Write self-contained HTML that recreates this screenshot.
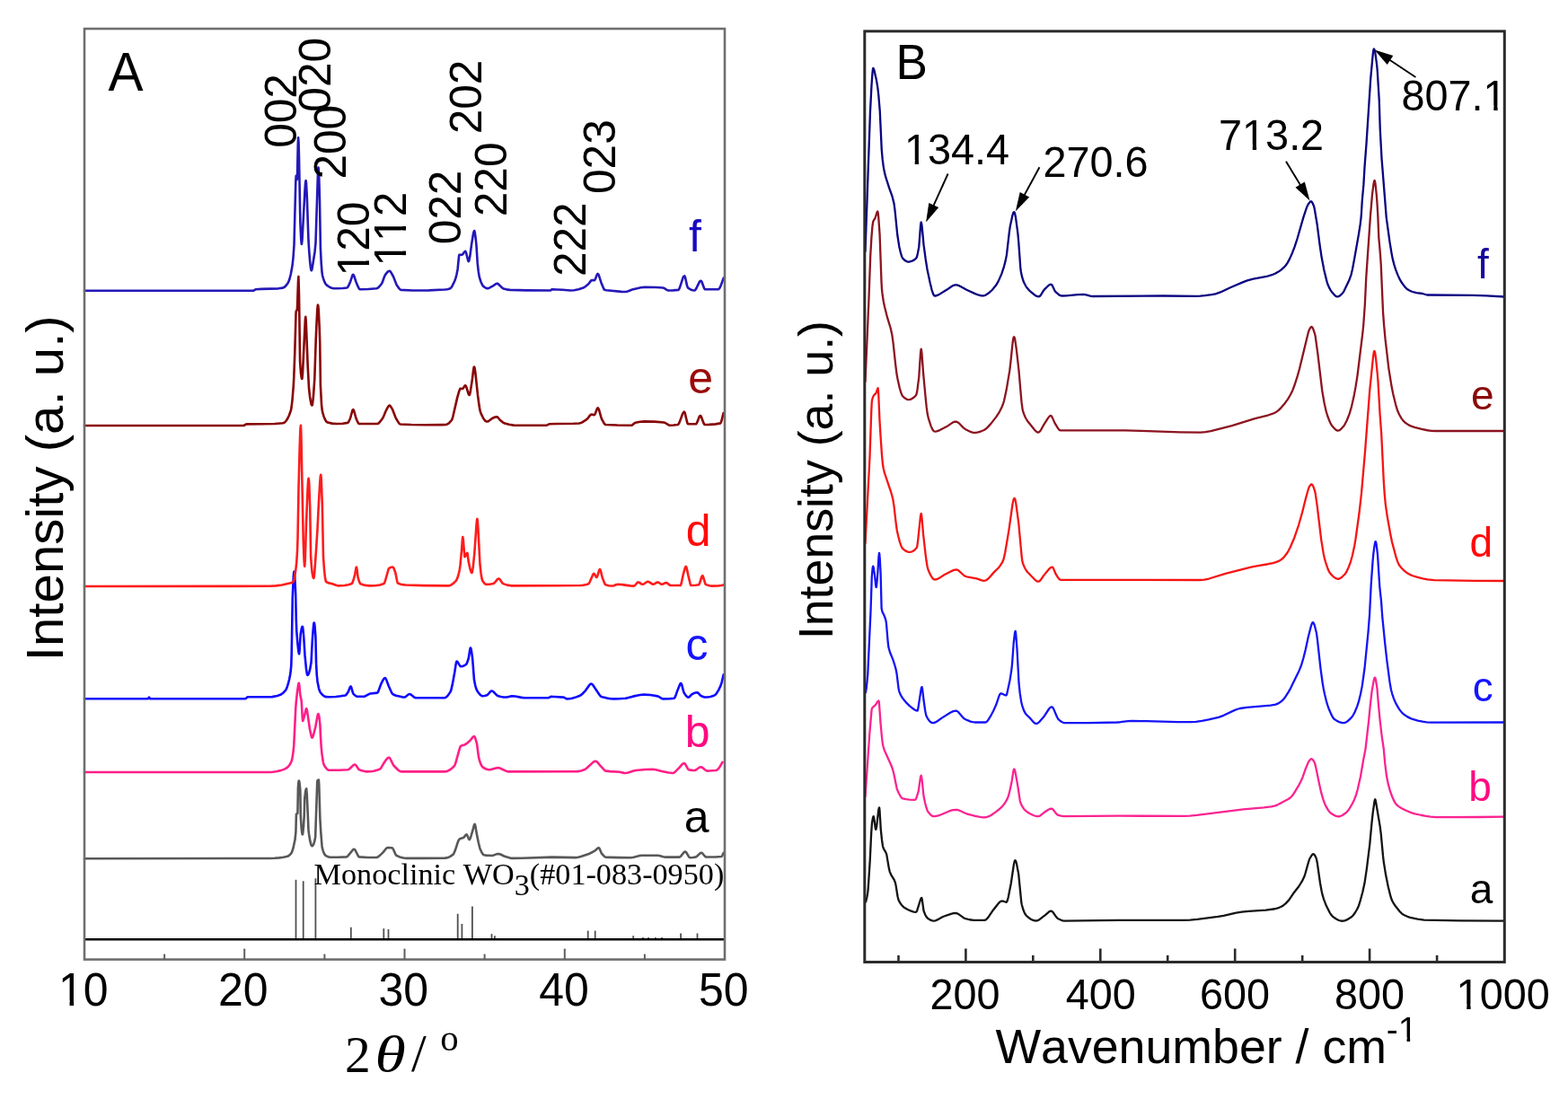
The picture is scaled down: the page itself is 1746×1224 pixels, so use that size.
<!DOCTYPE html>
<html><head><meta charset="utf-8"><style>
html,body{margin:0;padding:0;background:#fff;}
svg{display:block;}
text{font-kerning:none;}
</style></head><body>
<svg xmlns="http://www.w3.org/2000/svg" width="1746" height="1224" viewBox="0 0 1746 1224">
<rect width="1746" height="1224" fill="#fff"/>
<polyline points="94.00,956.20 300.75,956.00 305.75,955.82 310.75,955.39 315.50,954.71 320.00,953.79 321.25,953.21 322.75,952.02 324.25,950.33 325.00,949.13 326.50,944.50 328.50,935.28 329.40,926.50 329.90,906.90 331.40,905.90 331.90,877.50 332.25,872.71 332.50,870.56 332.80,869.60 333.25,870.43 333.50,871.65 334.30,879.40 334.80,908.80 335.75,923.67 336.50,928.93 336.80,929.40 337.25,928.01 338.00,920.38 338.70,908.80 339.20,890.20 339.50,886.90 340.25,881.04 340.75,878.99 341.20,878.40 341.75,884.51 343.50,924.41 344.00,928.64 345.25,936.46 346.50,941.04 347.00,941.91 347.25,942.13 347.75,942.16 348.50,941.55 349.25,940.15 350.25,936.89 351.00,933.30 351.25,929.65 353.25,870.57 353.50,869.47 354.25,868.79 354.90,868.60 355.25,873.26 356.40,911.80 357.25,926.32 358.50,942.15 358.80,944.10 359.75,947.58 360.50,949.67 361.50,951.63 362.25,952.55 363.50,953.37 365.50,954.30 367.25,954.78 376.50,954.82 386.00,954.34 386.75,953.91 387.50,953.17 392.75,946.72 393.50,946.07 394.30,945.80 395.00,946.14 395.50,946.73 398.75,953.15 399.50,954.10 400.00,954.38 409.50,954.96 419.25,955.05 420.75,954.45 422.50,953.13 426.50,949.40 430.00,944.95 431.00,944.23 431.75,944.10 435.50,944.29 437.00,944.58 438.00,945.99 440.25,951.14 441.25,952.73 445.00,954.44 449.25,955.57 452.75,955.90 469.00,955.87 495.50,955.61 497.75,955.38 499.75,954.69 501.75,953.63 504.60,951.60 505.25,950.81 506.75,947.32 510.00,937.37 510.75,935.71 511.50,934.63 512.50,934.08 515.25,933.31 516.25,932.84 518.50,930.08 519.00,929.62 519.60,929.40 520.25,930.13 522.00,934.65 522.50,935.10 523.00,934.78 523.75,933.33 524.50,931.09 526.50,924.45 527.75,919.47 528.25,918.20 528.60,917.90 529.00,918.49 529.25,919.37 531.00,929.62 532.75,938.28 534.50,945.30 536.50,949.57 538.00,951.71 539.00,952.30 541.50,952.66 548.00,952.97 549.50,952.60 553.25,951.12 555.25,950.93 557.25,951.52 561.25,953.47 565.25,954.83 568.00,955.61 570.25,955.90 581.25,955.73 614.75,954.62 641.00,955.15 643.75,954.79 646.75,954.06 655.75,950.97 658.75,949.54 662.50,947.40 665.50,944.81 666.80,944.30 667.25,944.60 667.75,945.49 669.75,950.33 672.75,953.72 673.75,954.38 674.50,954.59 679.75,954.84 690.50,955.12 702.75,955.19 705.50,954.76 711.50,953.13 714.25,952.80 732.50,952.80 734.25,953.05 738.50,954.29 740.25,954.59 756.50,954.60 757.25,954.33 758.00,953.71 761.50,949.39 762.25,948.81 763.00,948.60 763.50,948.76 764.25,949.50 767.00,954.10 767.75,954.94 768.25,955.19 771.75,954.99 775.00,954.40 776.25,953.51 779.25,950.57 780.25,949.96 781.00,949.80 781.50,949.92 782.25,950.45 784.75,953.53 786.00,954.52 796.50,954.44 803.50,953.93 804.25,952.96 805.70,949.80" fill="none" stroke="#585858" stroke-width="2.60" stroke-linejoin="round" stroke-linecap="round"/>
<polyline points="94.00,860.00 300.25,860.00 303.75,859.78 307.50,859.20 312.50,858.13 315.50,857.14 317.75,856.05 319.75,854.79 321.00,853.73 322.25,852.24 323.50,850.17 324.50,848.00 325.00,846.43 325.75,842.78 326.50,837.59 327.25,830.40 329.25,788.79 329.75,781.80 331.00,770.27 332.25,762.30 332.80,760.80 333.25,762.93 334.30,773.50 335.80,781.40 336.75,799.62 337.10,802.90 337.50,802.46 338.00,800.96 340.75,789.83 341.20,789.20 341.50,789.62 342.25,793.35 345.00,812.19 346.75,820.32 347.25,821.44 347.50,821.60 347.75,821.50 348.25,820.79 349.00,818.71 351.25,809.76 353.75,796.23 354.25,795.17 354.50,795.13 354.75,795.52 355.50,798.97 356.40,806.90 356.90,818.60 357.75,832.22 358.50,839.82 359.75,848.20 360.50,851.29 362.25,854.40 364.25,856.73 365.25,857.42 366.25,857.76 377.25,857.68 387.50,857.26 388.25,856.98 389.25,856.29 393.25,852.37 394.25,851.78 395.10,851.60 395.75,851.84 396.50,852.58 399.50,856.90 400.00,857.26 401.75,857.89 405.25,858.86 408.75,859.36 412.50,859.30 416.25,858.76 420.50,857.58 423.50,856.25 424.50,854.95 427.00,850.52 430.25,845.84 431.75,844.21 433.00,843.70 433.75,844.05 434.50,844.99 437.50,851.15 438.50,852.77 443.25,857.54 444.75,858.60 446.25,859.26 447.30,859.40 494.60,859.40 496.75,859.16 499.00,858.41 501.50,857.00 504.00,855.00 506.25,852.66 507.50,849.24 511.75,833.85 512.50,831.79 513.00,830.97 514.25,830.32 517.50,829.40 519.50,828.21 523.50,824.81 526.75,820.66 527.90,820.10 528.50,820.52 529.25,822.05 531.10,828.70 533.00,843.45 534.25,848.02 535.50,851.38 536.75,853.63 538.00,854.76 541.25,856.57 544.00,857.27 546.50,857.11 552.25,855.43 554.75,855.10 556.50,855.47 563.75,858.82 566.00,859.40 643.25,859.15 647.00,858.49 651.25,857.05 653.00,855.73 660.50,848.87 662.00,847.94 663.10,847.70 664.00,847.93 665.25,848.86 669.00,853.46 672.75,857.47 674.00,858.40 675.00,858.66 679.00,859.10 689.75,859.75 694.75,860.86 696.50,861.00 699.50,860.52 705.50,858.59 708.00,858.04 718.50,857.07 726.75,856.81 730.25,857.25 737.00,858.93 744.50,860.50 749.10,861.00 750.25,860.70 751.50,859.84 756.00,855.43 759.50,851.36 760.50,850.54 761.50,850.13 762.25,850.24 763.00,850.98 766.00,856.34 766.75,857.18 767.20,857.40 770.75,857.89 773.75,857.94 775.25,857.27 778.75,854.79 779.75,854.39 780.50,854.30 781.25,854.47 782.25,855.01 785.25,857.52 786.50,858.33 787.50,858.60 789.75,858.57 797.00,858.04 798.50,857.52 799.75,856.40 801.00,854.79 804.50,848.90" fill="none" stroke="#ff1e87" stroke-width="2.60" stroke-linejoin="round" stroke-linecap="round"/>
<polyline points="94.00,778.20 165.00,778.20 166.00,776.50 167.00,778.20 273.00,778.20 273.75,777.90 275.25,776.60 276.00,776.30 300.25,776.30 303.00,776.11 308.75,774.91 311.50,774.06 313.25,773.22 315.25,771.75 317.25,769.67 318.50,767.99 319.50,765.83 320.75,761.97 322.00,756.99 323.00,752.35 323.75,747.04 324.30,740.80 324.75,726.30 325.75,665.73 326.75,642.76 327.25,637.41 327.50,636.70 327.75,637.40 328.25,642.52 329.20,661.70 329.75,689.45 330.25,702.35 331.25,715.32 332.25,724.61 332.75,727.59 333.10,728.30 333.50,725.30 334.70,706.10 336.00,699.31 336.50,698.03 336.80,697.80 337.00,698.16 337.50,701.50 338.25,709.46 339.50,729.94 341.00,745.19 342.00,751.26 342.25,751.81 342.50,751.89 343.00,751.58 343.50,750.85 344.25,748.96 345.00,746.18 346.50,738.10 347.75,714.04 348.50,703.46 349.25,695.31 349.50,693.96 349.75,693.62 350.00,694.15 350.50,697.30 351.40,708.90 352.10,739.40 352.75,751.26 353.50,758.90 355.00,766.55 355.75,769.06 356.50,770.79 358.00,772.72 359.75,774.45 361.25,775.52 362.75,776.15 366.75,776.27 373.75,775.95 379.50,775.33 384.50,774.44 385.75,773.41 387.90,770.20 389.75,765.41 390.25,764.61 390.50,764.50 390.75,764.64 391.25,765.61 392.75,770.98 393.50,772.88 395.75,774.85 397.75,775.80 405.25,775.81 407.00,775.20 410.75,773.10 412.25,772.48 420.10,771.60 420.75,771.04 421.25,770.12 424.00,762.44 426.25,757.93 427.50,755.89 428.00,755.39 428.70,755.10 429.25,755.39 430.00,756.59 432.75,763.95 436.25,771.75 437.30,773.00 439.00,773.92 441.00,774.71 448.00,776.35 450.50,776.57 451.75,775.95 454.75,773.38 456.00,773.00 456.75,773.17 457.75,773.71 461.50,776.76 463.00,777.30 494.60,777.30 495.50,777.16 497.00,776.35 498.75,774.61 501.00,771.38 502.25,768.87 503.75,762.41 506.25,748.73 507.75,738.98 508.25,736.97 508.60,736.50 509.50,737.08 512.00,741.32 513.00,742.27 514.25,742.22 515.75,741.83 517.25,741.15 519.00,740.02 519.50,739.38 520.25,737.80 521.80,733.00 523.25,723.64 523.50,722.38 523.90,721.50 524.25,721.94 524.75,723.84 526.10,733.00 528.00,757.30 529.25,763.57 530.50,767.62 531.80,770.20 534.75,773.82 536.00,774.76 537.25,775.19 539.50,775.02 542.25,774.31 543.25,773.48 546.00,770.28 546.75,769.71 547.50,769.50 548.25,769.65 549.25,770.26 552.75,773.89 554.25,775.03 557.75,775.95 561.00,776.48 564.25,776.53 568.75,775.41 570.75,775.20 573.75,775.48 580.75,776.89 584.00,777.28 610.50,777.30 611.25,777.07 613.25,775.91 617.25,775.94 627.75,776.61 631.00,778.37 634.00,778.24 637.00,777.73 640.25,776.85 644.50,775.30 646.75,774.21 648.50,772.74 652.00,769.07 656.50,762.66 657.50,761.83 658.30,761.60 659.25,761.97 660.25,763.00 667.25,773.54 668.75,775.34 669.50,775.87 670.50,776.22 676.00,777.61 680.00,778.19 683.75,778.40 689.50,778.26 696.25,777.80 698.75,777.36 704.75,775.64 711.25,774.23 714.50,773.72 717.25,773.60 724.25,774.07 732.30,775.40 733.75,776.01 736.75,777.96 738.00,778.38 746.25,778.16 750.50,777.78 751.25,777.10 752.25,775.07 754.50,768.69 757.00,762.50 757.75,761.24 758.20,761.00 758.75,761.57 759.25,762.89 761.00,769.69 761.75,771.72 764.00,774.89 765.75,776.39 766.75,776.59 767.50,776.25 770.00,773.60 770.80,773.00 774.00,771.59 776.20,771.20 776.75,771.34 777.50,771.87 780.00,774.54 782.25,775.76 784.50,776.54 787.25,776.51 791.00,775.91 795.00,774.76 796.50,773.78 798.00,772.05 800.25,768.35 802.50,763.64 803.75,759.56 805.70,751.30" fill="none" stroke="#100aff" stroke-width="2.60" stroke-linejoin="round" stroke-linecap="round"/>
<polyline points="94.00,653.00 301.00,652.79 307.25,652.39 314.00,651.54 323.75,649.20 325.25,648.66 326.40,648.00 327.00,647.01 327.75,644.32 329.25,635.16 330.25,626.07 331.00,613.75 331.50,600.50 332.50,544.02 333.50,504.81 334.25,481.79 334.50,477.04 334.90,473.90 335.25,480.33 335.50,490.90 337.75,602.68 338.50,622.06 339.00,629.96 339.25,630.73 339.75,623.38 341.00,582.77 342.50,546.36 343.00,537.25 343.25,534.33 343.60,532.70 344.00,535.31 344.25,539.25 345.20,564.60 346.10,620.20 347.00,631.98 347.75,638.61 348.50,642.52 348.75,643.25 349.25,643.89 349.50,643.55 349.75,642.25 350.25,637.36 352.00,613.19 353.50,589.05 355.00,558.67 356.25,537.68 356.75,531.06 357.20,528.70 357.50,530.37 357.75,533.99 358.80,561.40 360.00,620.20 361.00,634.30 362.00,643.52 362.75,647.17 363.00,647.76 363.50,648.20 365.50,649.13 370.00,650.20 375.00,652.06 377.25,652.40 383.50,652.05 388.00,651.24 391.75,650.04 392.75,648.26 394.00,644.27 395.25,639.57 396.50,632.44 396.90,631.60 397.25,632.63 397.50,634.34 398.50,642.55 399.50,646.18 400.50,648.89 401.00,649.75 401.50,650.20 404.25,651.20 407.00,651.87 411.75,652.38 417.75,652.21 423.00,651.42 427.50,650.08 428.25,648.87 429.00,646.76 432.75,633.33 433.25,632.84 434.75,632.09 436.00,631.73 437.30,631.60 437.75,631.81 438.50,632.93 440.25,637.44 442.25,647.55 442.75,649.18 443.00,649.50 445.50,650.49 448.25,651.15 451.50,651.52 471.00,652.13 499.00,652.40 500.50,652.19 502.00,651.65 505.00,649.69 508.00,646.65 509.25,644.05 510.75,639.11 511.80,634.50 512.50,629.44 514.00,613.25 515.00,599.40 515.30,598.00 515.75,600.40 517.25,619.31 517.50,620.10 517.75,620.00 518.25,619.34 519.75,616.23 520.30,615.80 520.50,616.18 521.75,625.65 523.50,633.67 524.75,637.41 525.40,638.00 525.75,637.50 526.75,631.60 528.25,616.78 530.50,584.91 531.00,579.53 531.40,577.90 531.75,579.49 532.25,585.98 534.50,629.21 535.50,638.20 536.50,644.19 537.25,646.81 539.25,649.55 540.25,650.38 541.25,650.83 545.25,650.73 549.50,650.03 550.75,648.99 553.75,645.39 554.50,644.79 555.40,644.50 556.00,644.70 556.75,645.42 559.25,649.16 560.25,650.13 564.75,651.63 569.00,652.34 622.00,652.25 645.75,652.00 649.25,651.75 653.25,650.90 655.30,650.20 655.75,649.85 656.75,648.08 660.25,640.03 661.00,638.92 661.30,638.80 661.75,639.06 663.75,642.63 664.25,643.00 664.50,642.92 665.25,641.52 667.25,634.96 667.75,634.12 668.00,634.00 668.50,634.58 669.00,636.08 670.75,643.47 673.25,649.75 674.00,650.94 674.50,651.36 677.50,652.18 680.00,652.53 682.25,652.57 683.50,652.25 686.50,651.02 688.25,650.80 692.50,651.10 701.75,652.37 705.80,652.60 706.25,652.50 707.00,651.97 709.50,649.03 710.50,648.42 711.75,648.69 714.25,650.40 715.50,650.80 716.75,650.46 720.00,648.27 721.50,647.80 722.75,648.14 726.00,650.33 727.25,650.78 728.50,650.53 731.00,648.83 732.30,648.40 733.50,648.77 735.75,650.34 736.75,650.76 738.00,650.63 740.75,649.26 742.00,649.00 743.00,649.40 745.50,651.53 746.50,651.98 757.60,652.00 758.25,651.12 758.75,649.47 760.75,639.89 762.50,633.56 763.25,631.54 763.80,631.00 764.25,631.53 764.75,633.12 766.25,640.37 768.50,649.82 769.00,651.29 769.50,651.98 774.50,651.81 778.25,651.26 779.25,649.13 781.25,642.50 781.75,641.52 782.20,641.20 782.75,641.77 783.25,643.06 785.25,649.98 785.75,650.77 787.00,651.39 789.75,652.30 792.40,652.60 800.00,652.38 803.00,651.99 805.70,651.40" fill="none" stroke="#ff1c1c" stroke-width="2.60" stroke-linejoin="round" stroke-linecap="round"/>
<polyline points="94.00,474.00 271.00,474.00 271.75,473.81 273.75,472.60 274.50,472.40 305.75,472.04 315.00,471.30 316.75,470.58 318.50,468.86 320.00,466.57 321.75,462.95 323.25,459.03 324.00,456.69 324.50,454.06 325.50,445.58 326.75,430.11 327.25,420.93 328.25,394.16 329.50,349.22 329.70,347.00 330.80,345.00 331.00,342.92 332.00,313.63 332.40,308.10 333.00,328.25 334.10,402.90 335.00,415.52 335.75,420.87 336.25,421.99 336.50,421.43 337.00,415.85 339.75,358.10 340.00,354.58 340.30,352.90 340.75,358.04 342.75,408.58 344.00,432.25 345.00,441.42 346.25,448.87 346.75,450.62 347.25,451.45 347.50,451.45 347.75,450.91 348.00,449.82 349.00,440.83 350.30,422.00 351.75,377.65 352.50,360.55 353.25,345.91 353.75,340.46 354.00,339.70 354.25,340.31 354.75,344.98 355.75,365.95 356.25,381.43 356.90,429.40 358.00,450.04 358.75,457.03 359.25,459.38 360.50,463.60 361.50,466.22 362.75,468.60 363.75,469.83 365.00,470.60 369.75,471.62 374.50,472.00 381.50,471.75 387.25,470.90 388.25,469.69 390.00,466.00 392.25,457.77 392.75,456.51 393.20,456.10 393.75,456.67 394.25,457.97 396.50,466.00 398.50,470.44 399.25,471.57 399.75,471.95 420.50,471.94 421.50,471.46 422.75,470.34 426.00,466.00 427.00,464.13 429.50,457.98 431.50,454.12 432.75,452.17 433.70,451.60 434.25,451.79 435.00,452.58 437.25,456.47 440.50,465.00 442.50,468.66 444.25,471.32 445.00,472.07 445.75,472.46 458.00,472.97 473.50,473.19 492.50,473.08 496.25,472.99 497.50,472.70 499.00,471.92 500.75,470.46 502.90,468.00 503.50,466.80 504.50,463.32 509.25,442.66 511.25,435.65 512.25,433.13 512.70,432.80 515.25,432.93 516.00,432.07 517.50,429.57 518.00,429.21 518.25,429.24 518.75,429.81 519.25,430.96 521.75,438.99 522.50,439.98 522.75,439.93 523.00,439.50 523.75,436.40 525.75,423.36 527.25,411.15 527.75,408.83 528.00,408.50 528.50,409.57 529.25,414.22 532.00,440.00 533.50,451.34 534.50,457.18 535.50,460.42 538.25,466.00 540.25,468.58 541.25,469.30 542.00,469.56 542.75,469.57 543.75,469.18 548.00,466.00 551.25,464.56 553.20,464.20 554.25,464.74 557.00,468.00 559.50,470.07 561.25,471.20 566.75,472.79 572.00,473.61 608.75,473.70 611.50,472.30 620.00,471.97 638.25,471.75 645.00,471.45 646.50,471.10 648.25,470.36 653.25,467.19 654.25,466.19 656.75,462.89 658.00,461.75 659.00,461.51 661.25,462.15 662.00,462.07 662.75,460.87 664.75,455.51 665.25,454.67 665.70,454.40 666.25,454.80 667.00,456.43 669.25,464.45 670.25,467.21 672.75,471.59 673.75,472.69 674.50,473.00 687.25,473.54 703.25,473.70 704.25,473.31 706.50,471.35 707.50,470.80 712.75,469.75 717.50,469.40 728.75,469.66 739.25,470.43 740.75,471.00 744.25,473.18 745.75,473.68 750.00,473.55 754.70,473.00 755.50,472.41 756.50,470.60 760.25,460.56 761.00,459.30 761.90,458.70 762.25,458.96 762.75,460.08 765.00,469.71 765.50,471.34 766.00,472.21 775.00,472.26 775.50,471.80 776.25,470.41 778.75,464.06 779.25,463.31 779.80,463.00 780.25,463.23 781.00,464.45 783.25,470.71 784.25,472.66 784.80,473.00 789.50,472.92 796.75,472.38 802.25,471.36 802.75,470.58 803.50,468.45 805.60,460.10" fill="none" stroke="#880606" stroke-width="2.60" stroke-linejoin="round" stroke-linecap="round"/>
<polyline points="94.00,323.80 282.00,323.80 282.75,323.56 284.25,322.48 285.00,322.20 290.75,321.88 310.00,321.33 315.00,320.60 316.75,319.73 318.75,317.74 320.75,314.88 321.50,313.39 322.50,310.46 323.75,305.44 325.00,299.08 325.75,294.07 326.50,287.11 327.50,272.76 329.25,203.20 329.70,195.80 330.75,199.97 331.00,197.02 331.75,161.55 332.10,153.20 332.50,158.40 333.00,175.55 334.40,248.50 335.25,266.62 335.75,271.50 335.90,271.80 336.00,271.66 336.50,267.41 339.50,211.97 340.00,204.84 340.25,202.51 340.60,201.20 341.00,203.81 341.75,217.73 343.50,267.94 344.25,279.87 345.25,292.36 346.00,298.65 346.50,300.82 346.75,301.19 347.00,301.04 347.50,299.44 350.50,280.71 351.50,270.31 353.75,200.01 354.25,188.31 354.50,186.50 354.75,187.91 355.25,197.74 356.00,223.04 356.90,276.40 357.75,293.55 358.50,302.87 359.00,306.48 359.75,309.41 361.00,313.07 362.25,315.65 363.25,317.07 364.50,318.23 367.00,319.76 369.25,320.73 371.50,321.18 375.00,321.18 381.75,320.95 386.50,320.50 387.50,319.36 388.50,317.38 390.25,313.42 392.25,307.13 392.75,306.13 393.20,305.80 393.75,306.24 394.25,307.27 396.25,313.41 398.75,319.39 399.75,321.29 400.50,322.08 402.50,322.20 410.00,322.02 419.50,321.28 420.75,320.65 422.00,319.61 425.00,316.00 426.00,313.93 427.75,308.76 428.75,306.39 431.50,302.92 432.50,302.14 433.60,301.80 434.50,302.21 435.25,303.06 438.00,308.00 441.75,317.60 444.50,321.37 445.50,322.34 446.50,322.90 459.75,323.43 477.50,323.41 495.00,322.56 498.00,322.21 500.75,321.58 501.50,321.17 502.25,320.43 503.75,318.19 506.25,313.02 507.50,309.38 508.50,305.47 509.60,300.00 511.00,285.55 511.40,283.90 514.50,283.79 515.25,283.13 517.25,280.44 517.75,280.03 518.25,279.91 519.00,281.31 521.25,290.40 521.80,291.10 522.25,290.51 523.25,285.82 525.25,271.00 527.00,260.59 527.50,258.21 528.10,257.00 528.50,257.69 528.75,258.73 529.75,266.15 530.50,273.63 531.70,292.90 532.75,302.38 533.75,308.41 535.50,314.01 537.25,317.66 538.25,318.87 539.50,319.83 541.00,320.73 542.25,321.14 543.50,321.15 545.00,320.64 548.50,318.73 552.00,316.31 553.70,315.80 554.75,316.26 559.00,320.35 560.50,321.45 564.00,322.35 567.75,322.88 586.75,323.34 613.00,323.50 614.25,322.34 615.00,322.30 626.25,322.75 635.25,323.48 639.25,323.29 644.25,322.25 649.50,320.53 652.00,318.98 655.30,316.30 658.25,312.38 658.75,312.12 661.90,312.10 662.25,311.92 663.00,310.57 664.75,305.87 665.25,305.08 665.60,304.90 666.25,305.41 666.75,306.37 669.50,314.96 672.25,321.59 673.25,322.84 675.25,323.28 692.00,324.91 696.75,325.07 699.00,324.52 704.00,322.46 708.25,321.40 713.50,320.28 717.75,319.90 730.25,319.94 738.30,320.50 739.50,320.90 742.50,322.89 744.00,323.48 749.50,323.37 755.25,322.89 756.00,322.25 757.00,320.16 760.50,309.39 761.25,307.94 762.10,307.30 762.50,307.66 763.00,308.96 765.00,317.90 765.75,320.17 767.25,321.43 769.50,322.68 771.50,323.32 773.25,323.50 774.00,323.13 775.00,321.81 778.75,314.14 779.50,313.16 780.40,312.70 781.00,313.11 781.50,313.98 784.00,320.80 784.50,321.75 785.00,322.25 800.00,322.25 801.00,321.38 802.25,319.10 805.70,309.70" fill="none" stroke="#2418b8" stroke-width="2.60" stroke-linejoin="round" stroke-linecap="round"/>
<line x1="329.5" y1="1046.2" x2="329.5" y2="979.8" stroke="#505050" stroke-width="1.80" stroke-linecap="butt"/>
<line x1="337.7" y1="1046.2" x2="337.7" y2="981.3" stroke="#505050" stroke-width="1.80" stroke-linecap="butt"/>
<line x1="351.4" y1="1046.2" x2="351.4" y2="978.3" stroke="#505050" stroke-width="1.80" stroke-linecap="butt"/>
<line x1="390.8" y1="1046.2" x2="390.8" y2="1032.7" stroke="#505050" stroke-width="1.80" stroke-linecap="butt"/>
<line x1="427.3" y1="1046.2" x2="427.3" y2="1034.1" stroke="#505050" stroke-width="1.80" stroke-linecap="butt"/>
<line x1="432.5" y1="1046.2" x2="432.5" y2="1034.9" stroke="#505050" stroke-width="1.80" stroke-linecap="butt"/>
<line x1="509.7" y1="1046.2" x2="509.7" y2="1017.8" stroke="#505050" stroke-width="1.80" stroke-linecap="butt"/>
<line x1="514.4" y1="1046.2" x2="514.4" y2="1028.9" stroke="#505050" stroke-width="1.80" stroke-linecap="butt"/>
<line x1="525.9" y1="1046.2" x2="525.9" y2="1009.6" stroke="#505050" stroke-width="1.80" stroke-linecap="butt"/>
<line x1="547.5" y1="1046.2" x2="547.5" y2="1040.1" stroke="#505050" stroke-width="1.80" stroke-linecap="butt"/>
<line x1="550.9" y1="1046.2" x2="550.9" y2="1042.3" stroke="#505050" stroke-width="1.80" stroke-linecap="butt"/>
<line x1="654.7" y1="1046.2" x2="654.7" y2="1036.6" stroke="#505050" stroke-width="1.80" stroke-linecap="butt"/>
<line x1="662.7" y1="1046.2" x2="662.7" y2="1036.6" stroke="#505050" stroke-width="1.80" stroke-linecap="butt"/>
<line x1="705.2" y1="1046.2" x2="705.2" y2="1042.2" stroke="#505050" stroke-width="1.80" stroke-linecap="butt"/>
<line x1="716.0" y1="1046.2" x2="716.0" y2="1044.0" stroke="#505050" stroke-width="1.80" stroke-linecap="butt"/>
<line x1="722.0" y1="1046.2" x2="722.0" y2="1044.0" stroke="#505050" stroke-width="1.80" stroke-linecap="butt"/>
<line x1="730.0" y1="1046.2" x2="730.0" y2="1044.0" stroke="#505050" stroke-width="1.80" stroke-linecap="butt"/>
<line x1="737.0" y1="1046.2" x2="737.0" y2="1044.0" stroke="#505050" stroke-width="1.80" stroke-linecap="butt"/>
<line x1="758.1" y1="1046.2" x2="758.1" y2="1039.5" stroke="#505050" stroke-width="1.80" stroke-linecap="butt"/>
<line x1="776.5" y1="1046.2" x2="776.5" y2="1039.5" stroke="#505050" stroke-width="1.80" stroke-linecap="butt"/>
<line x1="94.0" y1="1046.2" x2="807.0" y2="1046.2" stroke="#000" stroke-width="2.60" stroke-linecap="butt"/>
<rect x="94.0" y="32.0" width="713.0" height="1036.6" fill="none" stroke="#6e6e6e" stroke-width="2.6"/>
<line x1="183.1" y1="1068.6" x2="183.1" y2="1062.6" stroke="#5f5f5f" stroke-width="2.00" stroke-linecap="butt"/>
<line x1="272.2" y1="1068.6" x2="272.2" y2="1056.6" stroke="#5f5f5f" stroke-width="2.00" stroke-linecap="butt"/>
<line x1="361.4" y1="1068.6" x2="361.4" y2="1062.6" stroke="#5f5f5f" stroke-width="2.00" stroke-linecap="butt"/>
<line x1="450.5" y1="1068.6" x2="450.5" y2="1056.6" stroke="#5f5f5f" stroke-width="2.00" stroke-linecap="butt"/>
<line x1="539.6" y1="1068.6" x2="539.6" y2="1062.6" stroke="#5f5f5f" stroke-width="2.00" stroke-linecap="butt"/>
<line x1="628.8" y1="1068.6" x2="628.8" y2="1056.6" stroke="#5f5f5f" stroke-width="2.00" stroke-linecap="butt"/>
<line x1="717.9" y1="1068.6" x2="717.9" y2="1062.6" stroke="#5f5f5f" stroke-width="2.00" stroke-linecap="butt"/>
<polyline points="963.50,1004.80 963.75,1004.67 964.25,1003.74 965.25,999.74 966.25,993.99 966.75,989.09 968.75,958.09 970.25,926.57 971.00,916.50 972.00,910.75 972.50,909.34 972.75,909.22 973.25,911.02 974.75,922.64 975.20,923.90 975.50,923.49 976.25,919.53 978.25,902.38 978.75,899.96 979.10,899.40 979.50,902.09 980.75,923.35 982.00,935.49 983.00,942.29 984.00,945.38 986.25,949.04 987.25,951.65 989.75,966.58 990.75,970.84 992.25,974.28 995.50,979.52 997.00,983.38 997.75,987.11 999.50,998.27 1000.50,1002.30 1002.00,1005.10 1003.75,1007.66 1005.50,1009.59 1007.25,1011.03 1010.75,1013.01 1014.50,1014.67 1017.50,1015.53 1020.10,1015.80 1020.75,1015.15 1021.25,1013.95 1025.25,1001.19 1025.75,1000.22 1026.25,999.92 1026.75,1001.58 1028.50,1014.26 1030.25,1018.74 1031.50,1021.02 1033.00,1022.82 1035.50,1024.39 1038.00,1025.38 1040.00,1025.59 1041.75,1025.26 1043.75,1024.42 1048.50,1021.69 1050.50,1020.77 1059.00,1017.80 1061.75,1017.20 1064.00,1017.00 1065.50,1017.20 1067.00,1017.86 1072.25,1021.69 1074.00,1022.74 1075.20,1023.20 1079.50,1024.25 1084.25,1024.89 1096.10,1024.90 1097.00,1024.73 1098.00,1024.18 1100.25,1021.85 1106.00,1013.41 1111.50,1006.52 1113.25,1004.66 1114.50,1003.80 1115.50,1003.51 1116.75,1003.65 1120.25,1004.78 1120.75,1004.77 1121.25,1004.20 1122.00,1002.24 1122.75,999.25 1125.75,983.95 1129.00,962.23 1129.75,959.15 1130.00,958.57 1130.40,958.20 1130.75,958.40 1131.25,959.33 1132.00,961.86 1134.25,973.82 1137.25,1004.59 1137.70,1007.20 1139.25,1012.75 1141.00,1017.15 1142.60,1019.50 1145.25,1021.89 1147.50,1023.52 1149.75,1024.72 1152.00,1025.43 1154.50,1025.52 1156.75,1024.63 1164.25,1018.94 1168.00,1015.56 1169.25,1014.82 1170.25,1014.60 1171.25,1014.89 1172.50,1016.01 1176.25,1021.33 1177.75,1022.92 1181.75,1024.82 1183.50,1025.36 1185.00,1025.58 1245.75,1024.92 1318.00,1024.80 1325.25,1024.53 1333.25,1023.87 1356.25,1020.87 1362.50,1019.76 1376.50,1016.68 1382.75,1015.68 1390.50,1014.92 1409.50,1013.57 1419.75,1012.24 1422.75,1011.46 1426.25,1009.93 1429.00,1008.38 1431.75,1006.12 1435.25,1002.38 1440.00,995.30 1446.25,987.25 1449.75,981.72 1452.25,976.53 1453.50,972.74 1457.25,959.41 1458.25,956.50 1460.75,952.38 1461.75,951.44 1462.50,951.20 1463.25,951.54 1464.00,952.46 1465.00,954.37 1466.00,956.94 1467.00,962.31 1470.00,983.50 1471.75,992.92 1472.75,997.15 1474.00,1001.35 1476.75,1008.58 1480.75,1016.50 1482.25,1018.87 1483.75,1020.62 1487.50,1023.29 1490.75,1024.99 1493.50,1025.73 1496.25,1025.64 1498.00,1025.16 1499.75,1024.42 1504.50,1021.59 1506.50,1019.75 1508.75,1016.78 1511.25,1012.48 1513.00,1008.68 1514.50,1003.93 1517.25,993.74 1519.50,983.57 1521.80,968.10 1525.25,940.46 1527.50,916.22 1528.75,904.85 1530.50,892.47 1530.75,891.26 1531.20,890.30 1531.50,890.69 1532.00,892.71 1536.75,920.91 1537.75,928.84 1540.00,953.23 1540.75,959.58 1543.00,973.81 1545.75,987.46 1548.50,998.48 1549.50,1001.53 1550.50,1003.76 1552.00,1006.46 1553.75,1009.01 1558.50,1014.92 1560.50,1017.09 1562.00,1018.28 1564.25,1019.48 1567.25,1020.80 1570.25,1021.82 1578.50,1023.68 1585.75,1024.69 1624.25,1025.37 1675.00,1025.60" fill="none" stroke="#141414" stroke-width="2.30" stroke-linejoin="round" stroke-linecap="round"/>
<polyline points="963.50,887.10 968.25,817.97 970.50,791.35 971.00,789.00 971.50,788.18 972.25,787.32 974.70,785.40 977.25,781.35 977.75,780.79 978.40,780.50 978.75,781.68 979.00,783.76 980.50,805.08 981.75,818.49 982.50,825.55 983.25,830.48 984.75,835.43 992.00,851.50 994.00,856.77 995.25,861.45 998.50,877.53 999.20,879.70 1001.00,883.78 1003.25,887.75 1004.25,888.87 1005.25,889.46 1009.00,890.13 1013.00,890.57 1018.25,890.80 1019.25,890.61 1020.00,889.55 1020.75,887.78 1022.75,881.17 1024.75,867.04 1025.25,864.61 1025.50,863.97 1025.75,863.82 1026.00,864.36 1026.50,867.33 1028.50,886.55 1030.00,893.74 1031.25,898.70 1032.50,902.43 1033.50,904.30 1036.50,907.69 1037.75,908.61 1039.00,909.12 1041.50,909.09 1044.75,908.39 1048.00,907.23 1058.00,902.98 1061.25,902.10 1064.00,901.80 1066.00,901.98 1068.00,902.54 1075.00,905.74 1077.25,906.57 1086.00,908.94 1091.00,909.97 1095.00,910.38 1097.75,910.26 1100.50,909.48 1103.50,907.98 1108.75,904.34 1113.00,901.00 1115.25,898.97 1117.00,897.06 1118.75,894.76 1121.75,889.60 1123.00,886.19 1124.50,880.21 1126.75,869.66 1128.50,858.41 1128.75,857.34 1129.20,856.50 1129.50,856.70 1130.00,857.80 1130.75,860.88 1133.25,874.95 1135.75,891.65 1136.25,893.78 1137.25,896.15 1138.50,898.49 1140.00,900.71 1141.50,902.40 1143.00,903.68 1146.50,905.91 1149.50,907.51 1152.00,908.50 1154.50,909.09 1156.50,909.17 1157.75,908.74 1159.25,907.73 1162.75,904.79 1167.00,902.02 1169.00,900.97 1170.75,900.60 1171.75,900.90 1172.75,901.74 1176.25,906.33 1177.75,907.70 1181.25,908.70 1184.50,909.17 1245.75,908.71 1318.25,908.80 1325.00,908.54 1332.75,907.88 1384.50,901.36 1407.25,899.44 1415.50,898.47 1420.00,897.40 1423.25,896.03 1434.50,889.97 1437.00,888.20 1438.75,886.50 1441.75,882.07 1446.50,874.04 1448.75,869.75 1450.50,865.70 1453.50,857.01 1456.75,849.11 1457.50,847.86 1459.00,846.08 1459.75,845.45 1460.50,845.20 1461.25,845.50 1462.25,846.64 1463.70,849.20 1464.25,850.63 1465.25,854.64 1468.75,871.80 1471.25,882.93 1473.75,891.48 1475.75,896.70 1479.00,902.32 1480.50,904.30 1482.00,905.77 1485.25,907.77 1487.75,908.88 1490.00,909.37 1492.00,909.23 1494.75,908.06 1498.75,905.28 1500.50,903.51 1502.25,901.10 1505.75,895.28 1508.00,890.68 1510.00,885.52 1511.75,879.30 1515.00,864.71 1518.25,845.72 1520.50,834.35 1524.00,803.80 1525.75,785.86 1527.50,770.38 1529.75,757.59 1530.50,755.13 1531.00,754.60 1531.50,755.31 1532.00,757.24 1533.50,767.10 1535.00,785.40 1536.75,803.34 1538.75,820.31 1540.75,833.71 1542.25,850.39 1544.00,864.34 1545.75,873.16 1548.00,881.22 1550.00,886.74 1551.75,890.90 1553.25,893.78 1554.75,895.85 1557.00,897.90 1560.25,899.94 1565.75,902.81 1570.75,904.91 1574.50,906.05 1582.00,907.75 1587.75,908.86 1593.00,909.62 1599.00,910.07 1609.75,910.10 1646.50,909.98 1675.00,909.60" fill="none" stroke="#fa2391" stroke-width="2.30" stroke-linejoin="round" stroke-linecap="round"/>
<polyline points="963.50,771.80 964.00,770.88 964.75,766.62 966.25,751.35 969.50,681.17 970.75,643.18 971.50,634.10 971.75,632.13 972.20,630.60 972.75,632.19 974.00,640.70 975.25,652.56 975.50,653.77 975.75,654.07 976.00,653.17 976.50,648.50 977.50,635.79 978.50,619.43 979.00,615.90 979.25,616.67 979.75,622.09 980.60,638.40 981.60,677.60 982.50,681.40 984.25,684.86 985.75,688.74 986.50,691.40 987.00,694.91 988.75,715.73 989.40,720.80 991.00,726.47 994.25,734.34 996.25,740.54 997.50,745.10 998.50,749.89 1000.50,766.19 1001.20,769.80 1002.50,773.16 1004.00,775.98 1005.75,778.40 1009.75,783.19 1012.75,786.06 1017.75,790.02 1019.75,791.20 1021.50,791.60 1021.75,791.35 1022.25,789.59 1025.50,768.47 1026.00,766.06 1026.50,765.10 1027.00,766.67 1028.50,779.51 1030.25,791.75 1031.25,796.74 1032.75,799.76 1034.50,802.41 1036.00,804.02 1037.50,804.96 1038.50,805.19 1039.50,805.14 1041.75,804.39 1044.00,803.04 1048.75,799.61 1058.50,793.50 1061.50,792.12 1064.25,791.60 1065.50,791.86 1067.00,792.90 1072.00,798.80 1073.75,800.45 1077.25,802.18 1080.75,803.57 1083.00,804.18 1085.25,804.48 1097.40,804.50 1098.25,804.24 1099.25,803.37 1100.50,801.67 1103.75,796.34 1106.25,791.48 1109.25,784.82 1112.25,775.81 1113.50,773.09 1114.25,772.35 1115.00,772.35 1116.25,772.78 1119.00,774.22 1120.30,774.50 1120.75,774.07 1121.25,772.75 1124.50,757.69 1126.25,746.60 1127.00,739.97 1128.75,715.74 1130.00,704.96 1130.25,703.65 1130.60,702.90 1131.00,704.34 1131.25,706.46 1132.50,722.89 1134.50,760.44 1135.75,772.40 1137.25,781.92 1138.25,785.84 1139.50,789.73 1140.50,792.16 1141.75,794.43 1143.25,796.28 1146.75,799.58 1150.75,804.21 1152.00,805.29 1153.25,805.91 1154.25,805.97 1155.25,805.64 1157.50,803.81 1162.75,797.66 1168.25,789.25 1169.75,787.78 1171.00,787.30 1171.50,787.39 1172.00,787.75 1173.25,789.59 1177.00,798.54 1178.50,801.20 1180.00,802.46 1182.25,803.96 1184.00,804.80 1185.50,805.16 1213.25,805.05 1243.50,804.50 1247.50,804.23 1256.25,803.22 1260.25,803.00 1276.50,803.18 1311.75,804.07 1325.75,804.20 1331.75,803.85 1338.50,802.92 1346.00,801.43 1357.00,798.84 1362.50,796.81 1375.00,790.85 1378.00,789.74 1380.75,789.00 1388.50,787.91 1414.75,785.55 1420.50,784.68 1423.50,783.40 1427.00,780.96 1429.00,779.15 1431.25,776.24 1434.50,771.18 1436.50,767.63 1446.50,747.16 1449.00,740.96 1451.50,732.51 1453.75,723.56 1456.75,709.48 1459.75,697.68 1461.00,694.11 1461.50,693.39 1461.90,693.20 1462.25,693.33 1462.75,693.92 1463.75,696.30 1466.00,705.30 1467.00,712.87 1470.50,744.62 1472.75,761.01 1473.75,766.92 1475.25,774.04 1476.75,780.21 1478.25,785.41 1479.60,789.20 1482.25,795.41 1484.00,798.72 1485.50,800.71 1488.75,802.90 1492.00,804.42 1495.00,805.14 1496.25,805.20 1497.50,804.98 1499.00,804.32 1500.75,803.11 1504.90,799.10 1506.75,796.57 1508.50,793.24 1511.25,786.57 1513.00,781.18 1515.00,773.00 1516.75,764.13 1519.50,744.51 1523.50,704.33 1525.10,684.00 1526.70,651.30 1528.50,625.83 1529.25,617.48 1530.25,609.61 1531.00,604.91 1531.25,603.89 1531.70,603.10 1532.25,604.30 1532.75,607.05 1534.00,617.60 1536.25,653.12 1538.00,669.43 1539.25,686.78 1542.25,716.92 1544.50,736.93 1547.50,759.66 1549.00,768.20 1550.25,772.77 1551.75,777.33 1553.25,781.05 1554.75,784.16 1557.00,788.11 1559.00,791.14 1561.00,793.64 1563.00,795.50 1566.50,797.88 1570.25,799.87 1573.75,801.21 1578.75,802.55 1584.00,803.73 1588.50,804.43 1593.10,804.70 1675.00,804.50" fill="none" stroke="#1414f5" stroke-width="2.30" stroke-linejoin="round" stroke-linecap="round"/>
<polyline points="963.50,605.00 968.50,509.20 970.25,458.01 970.75,448.03 971.25,444.75 972.25,441.74 973.50,439.70 975.50,438.00 977.00,433.27 977.60,432.30 978.00,435.24 978.25,439.47 979.50,468.59 980.75,488.83 982.00,506.99 983.00,517.30 983.75,521.70 985.00,526.92 992.25,548.29 994.30,556.00 995.50,563.68 997.75,583.27 998.75,590.47 1000.25,597.26 1002.00,603.84 1003.50,608.19 1005.00,610.89 1007.75,613.11 1010.50,614.52 1013.00,614.89 1014.50,614.69 1015.75,614.28 1018.25,612.73 1020.80,610.00 1021.25,608.55 1022.00,603.31 1025.00,574.89 1025.50,572.26 1025.75,572.02 1026.00,572.72 1026.50,576.54 1028.00,594.40 1030.25,614.27 1031.50,624.27 1032.50,630.55 1033.50,634.50 1036.00,640.22 1038.00,643.52 1039.00,644.62 1040.00,645.30 1040.75,645.49 1041.75,645.44 1044.00,644.79 1046.25,643.61 1051.75,640.09 1059.25,636.15 1062.25,634.92 1064.75,634.50 1066.00,634.70 1067.25,635.35 1073.50,640.99 1074.75,641.73 1076.50,642.27 1087.50,644.30 1093.25,646.33 1095.50,646.78 1096.75,646.72 1098.00,646.27 1099.50,645.28 1101.00,643.91 1106.75,637.37 1111.25,632.97 1113.25,630.72 1115.75,626.95 1117.50,623.09 1119.25,615.30 1123.50,589.84 1127.50,561.48 1128.50,556.87 1129.00,555.51 1129.60,554.90 1130.00,555.26 1130.50,556.63 1131.25,560.24 1134.25,582.54 1137.50,618.01 1138.25,624.12 1138.75,626.71 1140.00,630.05 1141.25,632.73 1142.50,634.91 1144.00,637.03 1152.25,645.56 1154.00,646.95 1155.50,647.62 1156.75,647.60 1158.00,646.73 1159.25,645.23 1162.25,640.88 1167.75,634.20 1169.75,632.32 1170.75,631.78 1171.50,631.61 1172.00,631.69 1172.75,632.57 1175.50,639.11 1178.00,643.15 1179.50,645.07 1180.75,645.79 1336.25,645.99 1341.00,645.58 1346.25,644.51 1364.50,638.92 1393.00,631.68 1399.50,630.28 1412.00,628.24 1417.50,627.08 1420.75,626.16 1423.25,625.15 1426.00,623.64 1428.25,622.02 1430.25,619.90 1432.75,616.51 1434.50,613.79 1436.50,610.00 1441.25,598.98 1446.00,585.05 1450.00,571.03 1454.25,554.08 1457.00,544.24 1457.75,542.34 1458.75,540.78 1459.75,539.65 1460.40,539.40 1461.00,539.66 1461.50,540.25 1462.50,542.22 1464.10,546.80 1464.75,549.67 1466.75,563.83 1471.25,601.42 1473.75,616.65 1474.75,621.35 1476.00,625.86 1478.75,634.02 1480.00,636.73 1481.25,638.64 1484.50,642.05 1487.00,643.93 1489.25,644.75 1490.25,644.78 1491.50,644.48 1492.75,643.84 1494.25,642.72 1497.75,639.27 1499.75,636.05 1501.75,631.62 1504.00,625.55 1505.75,619.23 1508.20,608.00 1509.50,600.43 1513.50,571.53 1516.00,549.41 1520.00,503.38 1525.25,434.37 1529.00,397.91 1529.75,392.62 1530.00,391.58 1530.40,390.90 1530.75,391.35 1531.25,393.36 1532.00,398.69 1533.75,415.83 1534.50,425.13 1536.50,460.10 1538.25,483.88 1540.70,534.50 1541.75,550.32 1542.75,561.25 1544.75,575.29 1548.00,593.53 1550.00,603.43 1554.50,620.41 1556.25,625.63 1557.75,628.95 1560.00,631.93 1563.25,635.29 1566.50,637.90 1569.75,639.85 1573.00,641.24 1578.50,642.88 1584.25,644.29 1589.50,645.27 1597.00,646.04 1612.25,646.42 1642.25,646.86 1675.00,647.00" fill="none" stroke="#f51414" stroke-width="2.30" stroke-linejoin="round" stroke-linecap="round"/>
<polyline points="963.50,425.00 967.40,334.80 969.25,284.29 970.50,263.24 971.50,251.49 972.25,246.75 973.00,245.14 974.50,243.00 976.50,236.48 977.20,235.50 977.50,236.11 977.75,237.47 978.25,242.09 979.60,261.30 981.50,313.86 982.00,322.50 982.50,326.97 983.75,335.50 985.00,341.48 988.00,353.45 991.75,365.76 993.25,372.38 994.50,381.12 997.25,406.58 998.50,416.54 999.50,422.03 1001.75,431.97 1003.25,437.20 1004.75,440.68 1007.00,442.99 1009.50,444.64 1010.75,445.03 1012.00,445.08 1013.50,444.85 1015.00,444.31 1017.75,442.51 1019.25,441.06 1020.25,439.76 1020.75,438.08 1021.50,433.94 1023.25,420.16 1025.00,393.62 1025.50,389.16 1025.75,388.72 1026.00,389.53 1026.50,393.89 1028.00,414.63 1030.75,444.14 1031.75,453.63 1032.75,461.04 1034.00,466.47 1036.75,474.88 1038.50,478.56 1039.50,479.88 1040.25,480.44 1041.25,480.59 1043.00,480.35 1046.50,479.10 1054.25,475.09 1060.75,470.66 1062.25,469.97 1063.50,469.65 1065.25,469.77 1067.00,470.72 1068.75,472.24 1072.75,476.36 1074.75,477.95 1080.75,480.94 1082.75,481.61 1084.50,481.88 1086.75,481.79 1089.25,481.31 1092.50,480.28 1095.75,478.96 1097.25,478.02 1099.00,476.59 1103.00,472.34 1109.25,464.38 1112.50,459.46 1115.75,452.89 1117.00,449.73 1118.00,446.50 1120.50,435.09 1124.25,412.88 1125.25,404.70 1127.50,382.53 1128.25,377.48 1128.75,375.61 1129.10,375.20 1129.50,375.58 1129.75,376.19 1130.25,378.15 1131.75,388.46 1134.50,412.84 1137.50,447.67 1138.75,456.85 1140.00,460.66 1141.25,463.74 1142.50,466.26 1144.00,468.71 1152.25,478.96 1153.75,480.47 1155.25,481.41 1156.20,481.60 1156.75,481.48 1158.00,480.41 1159.25,478.55 1162.25,473.12 1167.00,465.63 1168.75,463.57 1169.50,463.12 1170.10,463.00 1170.75,463.32 1171.50,464.36 1174.50,471.13 1178.00,476.88 1179.50,478.73 1180.25,479.25 1180.90,479.40 1253.00,479.47 1270.75,479.88 1314.25,481.30 1336.75,481.58 1342.25,481.13 1348.25,480.07 1371.75,474.03 1397.40,466.10 1411.75,462.52 1418.25,460.29 1421.00,458.95 1423.75,456.85 1426.75,453.82 1430.75,449.15 1434.00,444.63 1437.00,439.54 1439.25,434.94 1441.50,429.01 1444.75,418.88 1447.00,410.78 1456.75,370.47 1457.50,368.13 1458.50,366.08 1459.50,364.49 1460.40,363.90 1461.25,364.47 1462.25,366.36 1464.10,371.90 1464.75,374.79 1467.50,395.07 1472.25,435.07 1474.50,448.20 1476.75,458.40 1478.25,463.24 1480.00,467.96 1481.50,471.30 1483.00,473.89 1485.75,477.12 1487.75,478.91 1489.50,479.67 1491.00,479.47 1492.25,478.72 1493.50,477.59 1496.25,474.50 1497.25,473.09 1499.75,468.28 1502.75,460.66 1505.00,452.75 1507.50,441.86 1509.50,431.13 1511.50,418.31 1517.25,371.57 1518.25,361.79 1519.80,340.00 1521.25,309.32 1526.00,240.00 1528.00,216.65 1529.50,205.01 1530.00,202.32 1530.25,201.47 1530.60,201.00 1531.00,201.84 1531.25,203.11 1531.75,206.87 1532.75,216.52 1533.50,226.30 1534.30,240.00 1535.30,264.50 1537.00,283.70 1537.75,295.04 1540.00,347.06 1541.00,360.91 1542.50,377.17 1546.25,409.58 1549.50,430.08 1551.25,438.67 1554.25,451.09 1556.25,457.58 1558.00,461.50 1560.50,465.84 1562.75,468.85 1564.75,470.80 1568.25,473.15 1571.50,474.71 1575.00,475.85 1583.00,477.96 1589.50,479.25 1594.00,479.80 1598.00,480.00 1675.00,480.00" fill="none" stroke="#8c1420" stroke-width="2.30" stroke-linejoin="round" stroke-linecap="round"/>
<polyline points="963.50,280.00 969.00,124.09 970.50,95.00 971.50,81.12 972.00,76.74 972.30,75.90 972.75,76.31 973.50,78.46 976.00,89.60 977.25,97.15 978.25,105.57 979.75,123.54 981.75,166.85 982.75,177.92 983.75,185.60 984.75,191.12 986.25,197.18 990.00,208.90 993.50,218.64 995.50,226.60 996.50,233.99 999.20,261.00 1001.25,274.43 1003.00,281.92 1004.25,285.93 1005.25,287.84 1007.75,290.13 1010.00,291.35 1011.00,291.57 1012.25,291.57 1015.00,290.99 1017.75,289.62 1020.25,287.60 1020.75,286.59 1021.50,284.13 1023.25,275.29 1025.00,252.05 1025.50,247.92 1025.75,247.52 1026.25,249.28 1026.75,253.33 1028.60,273.20 1030.75,288.96 1032.50,299.96 1035.50,314.18 1037.50,322.52 1039.00,327.11 1039.75,328.59 1040.50,329.38 1041.25,329.49 1042.75,329.25 1045.50,328.12 1054.50,322.57 1060.00,318.71 1061.75,317.81 1063.50,317.34 1065.50,317.43 1067.75,318.11 1070.00,319.20 1076.25,322.79 1085.25,326.89 1089.25,328.49 1092.75,329.35 1095.25,329.47 1097.25,328.74 1101.50,325.95 1104.75,323.02 1109.00,317.84 1111.75,313.13 1115.25,305.09 1118.00,296.83 1119.75,289.85 1121.00,283.47 1123.75,259.46 1124.75,252.29 1127.50,239.41 1128.50,236.72 1129.20,236.10 1129.50,236.29 1130.00,237.41 1131.00,242.07 1133.40,260.10 1134.25,269.50 1136.25,297.66 1136.90,303.00 1138.25,308.94 1139.25,312.22 1140.50,315.31 1142.25,318.53 1144.00,321.07 1145.75,323.12 1147.75,324.99 1152.00,328.47 1154.50,329.94 1156.60,330.40 1157.75,329.91 1159.25,328.16 1162.00,323.70 1163.25,322.05 1167.75,317.75 1169.00,317.00 1170.25,316.70 1171.00,317.04 1171.75,318.04 1174.25,323.29 1175.25,324.93 1179.25,328.38 1180.75,329.19 1182.00,329.49 1187.25,329.31 1200.25,328.07 1206.30,327.80 1208.50,328.06 1214.00,329.65 1216.50,330.00 1295.75,329.50 1331.75,329.80 1336.50,329.61 1341.75,329.13 1349.25,328.12 1353.50,327.34 1359.00,325.43 1370.00,320.32 1383.75,314.35 1389.00,312.34 1395.50,310.61 1410.25,307.98 1416.25,306.20 1420.25,304.48 1423.25,302.84 1426.50,300.60 1429.25,298.23 1431.75,295.50 1433.75,292.63 1436.00,288.37 1439.00,281.69 1441.50,275.06 1444.50,266.00 1451.50,241.60 1454.75,231.89 1455.75,229.37 1456.75,227.47 1458.50,225.08 1459.25,224.46 1459.80,224.30 1460.25,224.44 1460.75,224.90 1461.75,226.55 1463.00,229.47 1463.75,232.50 1466.75,250.55 1469.50,272.12 1471.50,285.60 1474.25,300.20 1477.50,313.63 1478.50,316.74 1479.75,319.64 1481.25,322.53 1483.00,325.16 1485.75,328.31 1487.50,329.88 1489.00,330.49 1490.50,330.21 1492.00,329.31 1493.75,327.75 1495.25,326.21 1496.50,324.36 1502.00,312.86 1504.50,306.07 1506.00,299.82 1508.25,287.64 1513.00,260.63 1514.75,249.43 1515.80,240.00 1516.75,223.76 1518.40,205.40 1519.60,184.90 1521.50,160.20 1526.25,87.12 1528.75,60.33 1529.25,56.57 1529.50,55.33 1529.90,54.50 1530.25,54.79 1530.75,56.14 1531.50,59.83 1533.20,72.70 1533.75,78.92 1535.75,111.72 1536.75,143.92 1538.50,176.18 1543.75,242.37 1547.50,269.52 1549.50,281.86 1550.75,288.35 1552.50,295.13 1554.25,300.63 1556.50,306.37 1559.00,311.68 1561.00,315.05 1564.25,319.42 1566.50,321.71 1568.50,323.02 1571.50,324.47 1574.50,325.48 1577.25,326.07 1584.00,327.00 1589.00,328.50 1639.75,328.92 1655.25,329.47 1675.00,330.50" fill="none" stroke="#0a0580" stroke-width="2.30" stroke-linejoin="round" stroke-linecap="round"/>
<line x1="1000.5" y1="1071.5" x2="1000.5" y2="1064.0" stroke="#2b2b2b" stroke-width="2.60" stroke-linecap="butt"/>
<line x1="1075.4" y1="1071.5" x2="1075.4" y2="1056.5" stroke="#2b2b2b" stroke-width="2.60" stroke-linecap="butt"/>
<line x1="1150.3" y1="1071.5" x2="1150.3" y2="1064.0" stroke="#2b2b2b" stroke-width="2.60" stroke-linecap="butt"/>
<line x1="1225.3" y1="1071.5" x2="1225.3" y2="1056.5" stroke="#2b2b2b" stroke-width="2.60" stroke-linecap="butt"/>
<line x1="1300.2" y1="1071.5" x2="1300.2" y2="1064.0" stroke="#2b2b2b" stroke-width="2.60" stroke-linecap="butt"/>
<line x1="1375.2" y1="1071.5" x2="1375.2" y2="1056.5" stroke="#2b2b2b" stroke-width="2.60" stroke-linecap="butt"/>
<line x1="1450.2" y1="1071.5" x2="1450.2" y2="1064.0" stroke="#2b2b2b" stroke-width="2.60" stroke-linecap="butt"/>
<line x1="1525.1" y1="1071.5" x2="1525.1" y2="1056.5" stroke="#2b2b2b" stroke-width="2.60" stroke-linecap="butt"/>
<line x1="1600.1" y1="1071.5" x2="1600.1" y2="1064.0" stroke="#2b2b2b" stroke-width="2.60" stroke-linecap="butt"/>
<line x1="1055.6" y1="193.5" x2="1039.0" y2="230.2" stroke="#000" stroke-width="1.90" stroke-linecap="butt"/>
<polygon points="1031.1,247.5 1034.3,225.9 1045.2,230.9" fill="#000"/>
<line x1="1157.5" y1="186.3" x2="1140.0" y2="218.5" stroke="#000" stroke-width="1.90" stroke-linecap="butt"/>
<polygon points="1130.9,235.2 1135.7,213.9 1146.2,219.6" fill="#000"/>
<line x1="1432.0" y1="179.7" x2="1448.7" y2="207.3" stroke="#000" stroke-width="1.90" stroke-linecap="butt"/>
<polygon points="1458.5,223.6 1442.5,208.7 1452.8,202.5" fill="#000"/>
<line x1="1576.4" y1="86.0" x2="1546.3" y2="66.0" stroke="#000" stroke-width="1.90" stroke-linecap="butt"/>
<polygon points="1530.5,55.5 1551.3,62.1 1544.7,72.1" fill="#000"/>
<text transform="translate(120.54 100.58) scale(1 1.0500)" font-family='"Liberation Sans", Arial, sans-serif' font-size="58.5" fill="#000">A</text>
<text transform="translate(997.55 88.08) scale(1 1.0300)" font-family='"Liberation Sans", Arial, sans-serif' font-size="53.0" fill="#000">B</text>
<text transform="translate(65.06 1120.00) scale(1 1.0400)" font-family='"Liberation Sans", Arial, sans-serif' font-size="50.0" fill="#000">10</text>
<text transform="translate(242.96 1119.80) scale(1 1.0400)" font-family='"Liberation Sans", Arial, sans-serif' font-size="50.0" fill="#000">20</text>
<text transform="translate(421.52 1119.80) scale(1 1.0400)" font-family='"Liberation Sans", Arial, sans-serif' font-size="50.0" fill="#000">30</text>
<text transform="translate(600.15 1119.80) scale(1 1.0400)" font-family='"Liberation Sans", Arial, sans-serif' font-size="50.0" fill="#000">40</text>
<text transform="translate(777.97 1119.80) scale(1 1.0400)" font-family='"Liberation Sans", Arial, sans-serif' font-size="50.0" fill="#000">50</text>
<text transform="translate(1035.45 1123.82) scale(1 1.0350)" font-family='"Liberation Sans", Arial, sans-serif' font-size="46.8" fill="#000">200</text>
<text transform="translate(1186.64 1123.82) scale(1 1.0350)" font-family='"Liberation Sans", Arial, sans-serif' font-size="46.8" fill="#000">400</text>
<text transform="translate(1335.88 1123.82) scale(1 1.0350)" font-family='"Liberation Sans", Arial, sans-serif' font-size="46.8" fill="#000">600</text>
<text transform="translate(1485.96 1123.82) scale(1 1.0350)" font-family='"Liberation Sans", Arial, sans-serif' font-size="46.8" fill="#000">800</text>
<text transform="translate(1621.61 1123.82) scale(1 1.0350)" font-family='"Liberation Sans", Arial, sans-serif' font-size="46.8" fill="#000">1000</text>
<text transform="translate(1007.03 183.32) scale(1 1.0350)" font-family='"Liberation Sans", Arial, sans-serif' font-size="46.8" fill="#000">134.4</text>
<text transform="translate(1161.39 196.97) scale(1 1.0350)" font-family='"Liberation Sans", Arial, sans-serif' font-size="46.8" fill="#000">270.6</text>
<text transform="translate(1357.07 166.72) scale(1 1.0350)" font-family='"Liberation Sans", Arial, sans-serif' font-size="46.8" fill="#000">713.2</text>
<text transform="translate(1560.54 122.97) scale(1 1.0350)" font-family='"Liberation Sans", Arial, sans-serif' font-size="46.8" fill="#000">807.1</text>
<text x="767.01" y="280.44" font-family='"Liberation Sans", Arial, sans-serif' font-size="50.0" fill="#1a0ac0">f</text>
<text x="766.25" y="437.91" font-family='"Liberation Sans", Arial, sans-serif' font-size="50.0" fill="#9b0a0a">e</text>
<text x="763.76" y="608.22" font-family='"Liberation Sans", Arial, sans-serif' font-size="50.0" fill="#ff0a0a">d</text>
<text x="763.60" y="735.36" font-family='"Liberation Sans", Arial, sans-serif' font-size="50.0" fill="#1414ff">c</text>
<text x="762.63" y="831.92" font-family='"Liberation Sans", Arial, sans-serif' font-size="50.0" fill="#ff0a82">b</text>
<text x="761.83" y="927.46" font-family='"Liberation Sans", Arial, sans-serif' font-size="50.0" fill="#000">a</text>
<text x="1645.05" y="309.99" font-family='"Liberation Sans", Arial, sans-serif' font-size="46.0" fill="#14089c">f</text>
<text x="1638.10" y="456.25" font-family='"Liberation Sans", Arial, sans-serif' font-size="46.0" fill="#8a0a0a">e</text>
<text x="1636.38" y="619.69" font-family='"Liberation Sans", Arial, sans-serif' font-size="46.0" fill="#ff0a0a">d</text>
<text x="1639.83" y="780.65" font-family='"Liberation Sans", Arial, sans-serif' font-size="46.0" fill="#1414ff">c</text>
<text x="1635.19" y="891.79" font-family='"Liberation Sans", Arial, sans-serif' font-size="46.0" fill="#ff0a82">b</text>
<text x="1636.68" y="1006.05" font-family='"Liberation Sans", Arial, sans-serif' font-size="46.0" fill="#000">a</text>
<text transform="translate(329.77 164.85) rotate(-90) scale(1 1.0200)" font-family='"Liberation Sans", Arial, sans-serif' font-size="49.6" fill="#000">002</text>
<text transform="translate(367.62 124.63) rotate(-90) scale(1 1.0200)" font-family='"Liberation Sans", Arial, sans-serif' font-size="49.6" fill="#000">020</text>
<text transform="translate(385.32 199.56) rotate(-90) scale(1 1.0200)" font-family='"Liberation Sans", Arial, sans-serif' font-size="49.6" fill="#000">200</text>
<text transform="translate(410.87 307.39) rotate(-90) scale(1 1.0200)" font-family='"Liberation Sans", Arial, sans-serif' font-size="49.6" fill="#000">120</text>
<text transform="translate(452.01 296.52) rotate(-90) scale(1 1.0200)" font-family='"Liberation Sans", Arial, sans-serif' font-size="49.6" fill="#000">112</text>
<text transform="translate(512.57 272.30) rotate(-90) scale(1 1.0200)" font-family='"Liberation Sans", Arial, sans-serif' font-size="49.6" fill="#000">022</text>
<text transform="translate(535.92 149.33) rotate(-90) scale(1 1.0200)" font-family='"Liberation Sans", Arial, sans-serif' font-size="49.6" fill="#000">202</text>
<text transform="translate(563.77 241.21) rotate(-90) scale(1 1.0200)" font-family='"Liberation Sans", Arial, sans-serif' font-size="49.6" fill="#000">220</text>
<text transform="translate(651.56 308.03) rotate(-90) scale(1 1.0200)" font-family='"Liberation Sans", Arial, sans-serif' font-size="49.6" fill="#000">222</text>
<text transform="translate(684.82 216.01) rotate(-90) scale(1 1.0200)" font-family='"Liberation Sans", Arial, sans-serif' font-size="49.6" fill="#000">023</text>
<text transform="translate(69.59 736.17) rotate(-90)" font-family='"Liberation Sans", Arial, sans-serif' font-size="58.2" fill="#000">Intensity (a. u.)</text>
<text transform="translate(926.68 712.15) rotate(-90)" font-family='"Liberation Sans", Arial, sans-serif' font-size="53.7" fill="#000">Intensity (a. u.)</text>
<text x="349.6" y="985.0" font-family='"Liberation Serif", "Times New Roman", serif' font-size="34.2" fill="#000">Monoclinic WO<tspan dy="12">3</tspan><tspan dy="-12">(#01-083-0950)</tspan></text>
<text x="384.0" y="1193.7" font-family='"Liberation Serif", "Times New Roman", serif' font-size="57.4" fill="#000">2</text>
<text transform="translate(417.5 1192.6) scale(1.2334 1)" font-family='"Liberation Serif", "Times New Roman", serif' font-style="italic" font-size="56.7" fill="#000">θ</text>
<text x="458.10" y="1192.61" font-family='"Liberation Serif", "Times New Roman", serif' font-size="60.1" fill="#000">/</text>
<text x="490.21" y="1170.30" font-family='"Liberation Serif", "Times New Roman", serif' font-size="40.8" fill="#000">o</text>
<text x="1108.4" y="1183.6" font-family='"Liberation Sans", Arial, sans-serif' font-size="53.7" fill="#000">Wavenumber / cm</text>
<text x="1543.76" y="1159.57" font-family='"Liberation Sans", Arial, sans-serif' font-size="39.1" fill="#000">-1</text>
<g fill="#fff" transform="translate(65.06 1120.00) scale(1 1.0400)"><rect x="2.32" y="-5.44" width="10.16" height="6.94"/><rect x="17.09" y="-5.44" width="9.28" height="6.94"/></g>
<g fill="#fff" transform="translate(1621.61 1123.82) scale(1 1.0350)"><rect x="2.11" y="-5.20" width="9.57" height="6.70"/><rect x="16.00" y="-5.20" width="8.75" height="6.70"/></g>
<g fill="#fff" transform="translate(1007.03 183.32) scale(1 1.0350)"><rect x="2.11" y="-5.20" width="9.57" height="6.70"/><rect x="16.00" y="-5.20" width="8.75" height="6.70"/></g>
<g fill="#fff" transform="translate(1357.07 166.72) scale(1 1.0350)"><rect x="28.14" y="-5.20" width="9.57" height="6.70"/><rect x="42.02" y="-5.20" width="8.75" height="6.70"/></g>
<g fill="#fff" transform="translate(1560.54 122.97) scale(1 1.0350)"><rect x="93.19" y="-5.20" width="9.57" height="6.70"/><rect x="107.08" y="-5.20" width="8.75" height="6.70"/></g>
<g fill="#fff" transform="translate(410.87 307.39) rotate(-90) scale(1 1.0200)"><rect x="2.29" y="-5.41" width="10.08" height="6.91"/><rect x="16.95" y="-5.41" width="9.21" height="6.91"/></g>
<g fill="#fff" transform="translate(452.01 296.52) rotate(-90) scale(1 1.0200)"><rect x="2.29" y="-5.41" width="10.08" height="6.91"/><rect x="16.95" y="-5.41" width="9.21" height="6.91"/><rect x="29.88" y="-5.41" width="10.08" height="6.91"/><rect x="44.54" y="-5.41" width="9.21" height="6.91"/></g>
<g fill="#fff" transform="translate(1543.76 1159.57)"><rect x="14.64" y="-4.62" width="8.17" height="6.12"/><rect x="26.42" y="-4.62" width="7.48" height="6.12"/></g>
<rect x="962.8" y="34.8" width="712.5" height="1036.7" fill="none" stroke="#2b2b2b" stroke-width="3"/>
</svg>
</body></html>
